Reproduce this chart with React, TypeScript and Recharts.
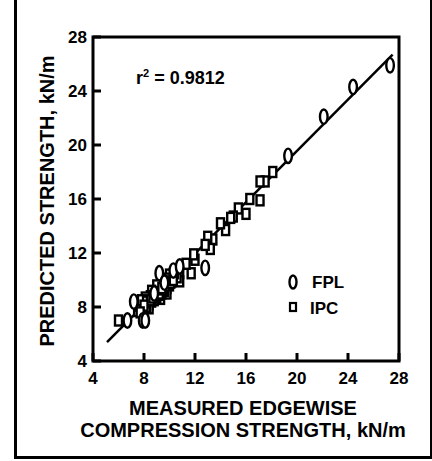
import React from 'react';
import {
  ScatterChart,
  Scatter,
  XAxis,
  YAxis,
  ReferenceLine,
  ReferenceArea,
} from 'recharts';

const AXIS_TICKS = [4, 8, 12, 16, 20, 24, 28];

// FPL (ellipse markers): measured vs predicted, kN/m
const FPL_MEASURED = [27.3, 24.4, 22.1, 19.3, 12.8, 9.2, 10.3, 10.8, 7.2, 6.7, 7.9, 8.1, 9.6, 8.8];
const FPL_PREDICTED = [25.9, 24.3, 22.1, 19.2, 10.9, 10.5, 10.7, 11.0, 8.4, 7.0, 7.0, 7.0, 9.8, 9.0];

// IPC (square markers)
const IPC_MEASURED = [
  6.0, 18.1, 17.5, 17.1, 17.1, 16.3, 16.0, 15.4, 15.0, 14.8, 14.4, 14.0, 13.4, 13.2, 13.0, 12.8,
  12.0, 11.9, 11.7, 11.3, 10.8, 10.3, 10.8, 10.6, 10.4, 10.2, 10.1, 10.0, 10.0, 9.9, 9.8,
  9.8, 9.7, 9.6, 9.5, 9.4, 9.3, 9.3, 9.2, 9.1, 9.0, 9.0, 8.9, 8.8, 8.7, 8.6, 8.6, 8.5,
  8.4, 8.4, 8.3, 8.2, 8.1, 8.0, 7.9, 7.7, 7.5, 7.6, 7.8, 8.2, 8.5, 8.9, 9.2, 9.5, 9.7,
  10.1, 10.3, 9.4, 8.7, 8.0, 7.7,
];
const IPC_PREDICTED = [
  7.0, 18.0, 17.3, 17.3, 15.9, 16.0, 14.9, 15.3, 14.7, 14.6, 13.7, 14.2, 13.0, 12.3, 13.2, 12.6,
  11.5, 11.9, 10.5, 11.2, 10.5, 10.2, 9.9, 10.2, 10.5, 9.9, 10.3, 9.6, 10.4, 10.1, 9.4,
  9.0, 9.9, 9.2, 9.7, 9.0, 9.5, 8.6, 8.9, 9.3, 8.7, 9.6, 9.1, 8.5, 8.9, 8.4, 9.2, 8.8,
  8.2, 7.9, 8.6, 8.0, 8.7, 8.3, 7.8, 8.0, 7.7, 8.1, 8.5, 8.4, 8.5, 8.8, 9.0, 9.3, 9.6,
  9.8, 10.0, 9.4, 8.7, 8.1, 7.6,
];

// fitted line end points
const FIT_X = [5.1, 27.5];
const FIT_Y = [5.4, 26.7];

const R_SQUARED = '0.9812';
const X_TITLE = ['MEASURED EDGEWISE', 'COMPRESSION STRENGTH, kN/m'];
const Y_TITLE = 'PREDICTED STRENGTH, kN/m';

const fplData = FPL_MEASURED.map((x, i) => ({ x, y: FPL_PREDICTED[i] }));
const ipcData = IPC_MEASURED.map((x, i) => ({ x, y: IPC_PREDICTED[i] }));

const FONT = '"Liberation Sans", Arial, sans-serif';

const Ellipse = (props: any) => (
  <ellipse cx={props.cx} cy={props.cy} rx={3.8} ry={7.2} fill="#fff" stroke="#000" strokeWidth={2.4} />
);

const Square = (props: any) => (
  <rect x={props.cx - 3.5} y={props.cy - 5} width={7} height={10} fill="#fff" stroke="#000" strokeWidth={2.4} />
);

const XTick = (props: any) => {
  const { x, y, payload } = props;
  return (
    <g>
      <line x1={x} y1={y} x2={x} y2={y - 8} stroke="#000" strokeWidth={3} />
      <text x={x} y={y + 23} textAnchor="middle" fontFamily={FONT} fontWeight="bold" fontSize={17} fill="#000">
        {payload.value}
      </text>
    </g>
  );
};

const YTick = (props: any) => {
  const { x, y, payload } = props;
  return (
    <g>
      <line x1={x + 6} y1={y} x2={x + 14} y2={y} stroke="#000" strokeWidth={3} />
      <text x={x} y={y + 6} textAnchor="end" fontFamily={FONT} fontWeight="bold" fontSize={17} fill="#000">
        {payload.value}
      </text>
    </g>
  );
};

const XTitle = (props: any) => {
  const { viewBox } = props;
  const cx = viewBox.x + viewBox.width / 2;
  return (
    <g fontFamily={FONT} fontWeight="bold" fontSize={20} fill="#000" textAnchor="middle">
      <text x={cx - 3} y={viewBox.y + 54}>{X_TITLE[0]}</text>
      <text x={cx - 3} y={viewBox.y + 76}>{X_TITLE[1]}</text>
    </g>
  );
};

const YTitle = (props: any) => {
  const { viewBox } = props;
  const cy = viewBox.y + viewBox.height / 2;
  const x = 54;
  return (
    <text
      x={x}
      y={cy + 2}
      transform={`rotate(-90 ${x} ${cy + 2})`}
      textAnchor="middle"
      fontFamily={FONT}
      fontWeight="bold"
      fontSize={20}
      fill="#000"
    >
      {Y_TITLE}
    </text>
  );
};

const Annotations = (props: any) => {
  const { viewBox } = props;
  const left = viewBox.x;
  const top = viewBox.y;
  return (
    <g fontFamily={FONT} fontWeight="bold" fill="#000">
      <text x={left + 43} y={top + 47} fontSize={18}>
        r<tspan fontSize={11} dy={-7}>2</tspan>
        <tspan dy={7}>{` = ${R_SQUARED}`}</tspan>
      </text>
      <ellipse cx={left + 200} cy={top + 245} rx={3.5} ry={6.5} fill="#fff" stroke="#000" strokeWidth={2.4} />
      <text x={left + 219} y={top + 251} fontSize={17}>FPL</text>
      <rect x={left + 197} y={top + 266} width={6} height={8} fill="#fff" stroke="#000" strokeWidth={2.2} />
      <text x={left + 217} y={top + 277} fontSize={17}>IPC</text>
    </g>
  );
};

export default function App() {
  return (
    <div style={{ position: 'absolute', left: 0, top: 0, width: 432, height: 461, background: '#fff' }}>
      <ScatterChart width={432} height={461} margin={{ top: 37, right: 33, bottom: 70, left: 33 }}>
        <XAxis
          type="number"
          dataKey="x"
          domain={[4, 28]}
          ticks={AXIS_TICKS}
          interval={0}
          allowDataOverflow
          height={30}
          axisLine={false}
          tickLine={false}
          tickSize={0}
          tickMargin={0}
          tick={<XTick />}
          label={<XTitle />}
        />
        <YAxis
          type="number"
          dataKey="y"
          domain={[4, 28]}
          ticks={AXIS_TICKS}
          interval={0}
          allowDataOverflow
          width={60}
          axisLine={false}
          tickLine={false}
          tickSize={0}
          tickMargin={6}
          tick={<YTick />}
          label={<YTitle />}
        />
        <ReferenceArea
          x1={4}
          x2={28}
          y1={4}
          y2={28}
          fill="none"
          stroke="#000"
          strokeWidth={3}
          fillOpacity={0}
          label={<Annotations />}
        />
        <ReferenceLine
          segment={[
            { x: FIT_X[0], y: FIT_Y[0] },
            { x: FIT_X[1], y: FIT_Y[1] },
          ]}
          stroke="#000"
          strokeWidth={2.5}
        />
        <Scatter name="IPC" data={ipcData} shape={<Square />} isAnimationActive={false} />
        <Scatter name="FPL" data={fplData} shape={<Ellipse />} isAnimationActive={false} />
      </ScatterChart>
      <div
        style={{
          position: 'absolute',
          left: 14,
          top: -1,
          width: 413,
          height: 456,
          borderLeft: '3px solid #000',
          borderRight: '2px solid #000',
          borderBottom: '3px solid #000',
          borderTop: '1px solid #000',
          pointerEvents: 'none',
        }}
      />
    </div>
  );
}
